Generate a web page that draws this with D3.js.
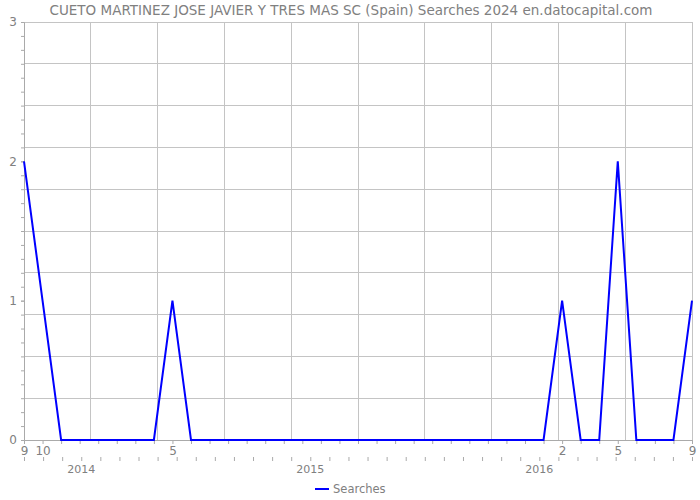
<!DOCTYPE html>
<html><head><meta charset="utf-8">
<script src="https://cdn.jsdelivr.net/npm/d3@7"></script>
<style>body{margin:0;background:#fff}svg{display:block}text{font-family:"DejaVu Sans",sans-serif}</style>
</head><body>
<svg id="c" width="700" height="500"></svg>
<script>
const title = "CUETO MARTINEZ JOSE JAVIER Y TRES MAS SC (Spain) Searches 2024 en.datocapital.com";
const months = ["2013-09","2013-10","2013-11","2013-12",
 "2014-01","2014-02","2014-03","2014-04","2014-05","2014-06","2014-07","2014-08","2014-09","2014-10","2014-11","2014-12",
 "2015-01","2015-02","2015-03","2015-04","2015-05","2015-06","2015-07","2015-08","2015-09","2015-10","2015-11","2015-12",
 "2016-01","2016-02","2016-03","2016-04","2016-05","2016-06","2016-07","2016-08","2016-09"];
const searches = [2,1,0,0, 0,0,0,0,1,0,0,0,0,0,0,0, 0,0,0,0,0,0,0,0,0,0,0,0, 0,1,0,0,2,0,0,0,1];
const monthLabels = {"2013-09":"9","2013-10":"10","2014-05":"5","2016-02":"2","2016-05":"5","2016-09":"9"};
const yearSlots = 36;
const yearLabels = [{label:"2014", slot:3},{label:"2015", slot:15},{label:"2016", slot:27}];
const yTicks = [0,1,2,3];
const seriesName = "Searches";

const svg = d3.select("#c");
const L = 24, R = 692, T = 22, B = 440;
const x = d3.scalePoint().domain(months).range([L, R]);
const xs = d3.scaleLinear().domain([0, yearSlots - 1]).range([L, R]);
const xg = d3.scaleLinear().domain([0, 10]).range([L, R]);
const y = d3.scaleLinear().domain([0, 3]).range([B, T]);
const grid = "#c4c4c4", txt = "#808080";

// grid
svg.append("g").selectAll("line").data(d3.range(0, 11)).join("line")
  .attr("x1", d => xg(d)).attr("x2", d => xg(d)).attr("y1", T).attr("y2", B)
  .attr("stroke", grid).attr("stroke-width", 1).attr("shape-rendering","crispEdges");
svg.append("g").selectAll("line").data(d3.range(0, 11).map(i => i * 0.3)).join("line")
  .attr("x1", L).attr("x2", R).attr("y1", d => y(d)).attr("y2", d => y(d))
  .attr("stroke", grid).attr("stroke-width", 1).attr("shape-rendering","crispEdges");

// y axis
const ya = svg.append("g").attr("transform", `translate(${L},0)`)
  .call(d3.axisLeft(y).tickValues(yTicks).tickFormat(d3.format("d")).tickSize(3).tickPadding(4));
svg.append("g").attr("transform", `translate(${L},0)`)
  .call(d3.axisLeft(y).tickValues(d3.range(0, 31).map(i => i / 10)).tickFormat("").tickSize(3))
  .call(g => g.select(".domain").remove());

// x axis upper (months)
const xa = svg.append("g").attr("transform", `translate(0,${B})`)
  .call(d3.axisBottom(x).tickValues(months).tickFormat(d => monthLabels[d] || "").tickSize(4).tickPadding(2));
// x axis lower (years)
const xb = svg.append("g").attr("transform", `translate(0,${B + 17})`)
  .call(d3.axisBottom(xs).tickValues(d3.range(0, yearSlots)).tickFormat("").tickSize(4));
xb.select(".domain").remove();
svg.append("g").selectAll("text").data(yearLabels).join("text")
  .attr("x", d => xs(d.slot)).attr("y", B + 33).attr("text-anchor","middle")
  .attr("fill", txt).attr("font-size", 11).text(d => d.label);

[ya, xa, xb].forEach(g => {
  g.selectAll(".domain").attr("stroke", "#aaa");
  g.selectAll(".tick line").attr("stroke", "#aaa");
  g.selectAll("text").attr("fill", txt).attr("font-size", 12).attr("font-family", "DejaVu Sans");
});
svg.selectAll(".tick line").attr("stroke", "#aaa");
svg.selectAll(".domain").attr("stroke", "#aaa");

// line
svg.append("path").datum(searches)
  .attr("fill", "none").attr("stroke", "#0000ff").attr("stroke-width", 2).attr("stroke-linejoin","miter")
  .attr("d", d3.line().x((d, i) => x(months[i])).y(d => y(d)));

// title
svg.append("text").attr("x", 351).attr("y", 15).attr("text-anchor","middle")
  .attr("fill", "#808080").attr("font-size", 13.5).text(title);

// legend
const lg = svg.append("g");
lg.append("line").attr("x1", 315).attr("x2", 329).attr("y1", 489).attr("y2", 489)
  .attr("stroke", "#0000ff").attr("stroke-width", 2);
lg.append("text").attr("x", 333).attr("y", 493).attr("fill", txt).attr("font-size", 11.5).text(seriesName);
</script>
</body></html>
